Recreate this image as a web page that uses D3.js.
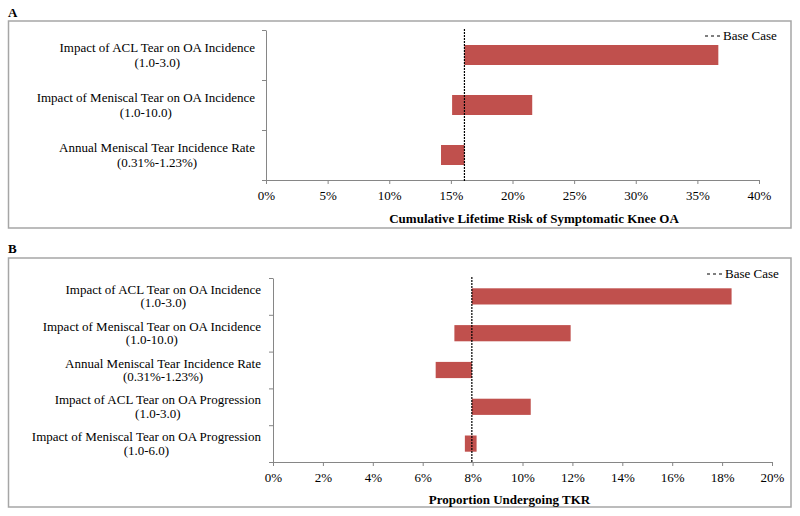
<!DOCTYPE html>
<html>
<head>
<meta charset="utf-8">
<script src="https://cdn.jsdelivr.net/npm/d3@7/dist/d3.min.js"></script>
<style>
  html, body { margin: 0; padding: 0; background: #fff; }
  svg { display: block; }
  svg text { font-family: "Liberation Serif", "Times New Roman", Times, Tinos, "DejaVu Serif", serif; fill: #000; }
</style>
</head>
<body>
<svg id="chart" width="800" height="516"></svg>
<script>
// ---------- Data ----------
const categoriesA = [
  ["Impact of ACL Tear on OA Incidence", "(1.0-3.0)"],
  ["Impact of Meniscal Tear on OA Incidence", "(1.0-10.0)"],
  ["Annual Meniscal Tear Incidence Rate", "(0.31%-1.23%)"]
];
const lowA  = [16.1, 15.1, 14.2];
const highA = [36.7, 21.6, 16.1];
const baseA = 16.1;
const ticksA = [0, 5, 10, 15, 20, 25, 30, 35, 40];
const titleA = "Cumulative Lifetime Risk of Symptomatic Knee OA";

const categoriesB = [
  ["Impact of ACL Tear on OA Incidence", "(1.0-3.0)"],
  ["Impact of Meniscal Tear on OA Incidence", "(1.0-10.0)"],
  ["Annual Meniscal Tear Incidence Rate", "(0.31%-1.23%)"],
  ["Impact of ACL Tear on OA Progression", "(1.0-3.0)"],
  ["Impact of Meniscal Tear on OA Progression", "(1.0-6.0)"]
];
const lowB  = [7.97, 7.27, 6.52, 7.97, 7.69];
const highB = [18.38, 11.93, 7.97, 10.33, 8.16];
const baseB = 7.97;
const ticksB = [0, 2, 4, 6, 8, 10, 12, 14, 16, 18, 20];
const titleB = "Proportion Undergoing TKR";

const legendLabel = "Base Case";

// ---------- Drawing ----------
const svg = d3.select("#chart");
const BAR = "#c0504d";
const AXIS = "#868686";
const FS = 13;
const FONT = '"Liberation Serif", "Times New Roman", Times, Tinos, "DejaVu Serif", serif';

function panel(o) {
  const g = svg.append("g").attr("font-family", FONT);
  g.append("text").attr("x", 8).attr("y", o.letterY)
    .attr("font-weight", "bold").attr("font-size", FS).text(o.letter);
  g.append("rect").attr("x", 8.5).attr("y", o.box[0]).attr("width", 782.5)
    .attr("height", o.box[1] - o.box[0]).attr("fill", "none")
    .attr("stroke", "#a6a6a6").attr("stroke-width", 1.5);

  const x = d3.scaleLinear().domain(o.domain).range(o.xr);
  const n = o.cats.length;
  const y = d3.scaleBand().domain(d3.range(n)).range(o.yr).paddingInner(o.pad).paddingOuter(o.pad / 2);
  const yl = d3.scaleLinear().domain([0, n]).range(o.yr);

  const xa = g.append("g").attr("transform", `translate(0,${o.yr[1]})`)
    .call(d3.axisBottom(x).tickValues(o.ticks).tickSize(4).tickSizeOuter(0)
      .tickPadding(7).tickFormat(d => d + "%"));
  xa.attr("font-family", FONT).attr("font-size", FS);
  xa.select(".domain").attr("stroke", AXIS);
  xa.selectAll(".tick line").attr("stroke", AXIS);
  xa.selectAll(".tick text").attr("fill", "#000");

  const ya = g.append("g").attr("transform", `translate(${o.xr[0]},0)`)
    .call(d3.axisLeft(yl).tickValues(d3.range(n + 1)).tickSize(4).tickSizeOuter(0).tickFormat(""));
  ya.select(".domain").attr("stroke", AXIS);
  ya.selectAll(".tick line").attr("stroke", AXIS);

  g.append("g").selectAll("rect").data(d3.range(n)).join("rect")
    .attr("x", i => x(o.low[i]))
    .attr("width", i => x(o.high[i]) - x(o.low[i]))
    .attr("y", i => y(i))
    .attr("height", y.bandwidth())
    .attr("fill", BAR);

  g.append("line").attr("x1", x(o.base)).attr("x2", x(o.base))
    .attr("y1", o.yr[0] - 1).attr("y2", o.yr[1] + 1)
    .attr("stroke", "#000").attr("stroke-width", 1.2).attr("stroke-dasharray", "2,1");

  o.cats.forEach((lines, i) => {
    const cy = y(i) + y.bandwidth() / 2;
    const t = g.append("text").attr("font-size", FS).attr("text-anchor", "middle");
    const widths = lines.map(s => {
      const m = g.append("text").attr("font-size", FS).text(s);
      const w = m.node().getComputedTextLength(); m.remove(); return w;
    });
    const cx = o.labelRight - d3.max(widths) / 2;
    lines.forEach((s, k) => {
      t.append("tspan").attr("x", cx).attr("y", cy + o.lineOff[k]).text(s);
    });
  });

  g.append("text").attr("x", o.titleX).attr("y", o.titleY)
    .attr("text-anchor", "middle").attr("font-weight", "bold").attr("font-size", FS)
    .text(o.title);

  g.append("line").attr("x1", o.legX).attr("x2", o.legX + 15)
    .attr("y1", o.legY - 4).attr("y2", o.legY - 4)
    .attr("stroke", "#000").attr("stroke-width", 1.2).attr("stroke-dasharray", "3,3");
  g.append("text").attr("x", o.legX + 18).attr("y", o.legY).attr("font-size", FS).text(legendLabel);
}

panel({
  letter: "A", letterY: 17, box: [21, 228],
  domain: [0, 40], xr: [266, 759], yr: [30, 180], pad: 0.6,
  cats: categoriesA, low: lowA, high: highA, base: baseA, ticks: ticksA,
  labelRight: 255, lineOff: [-3, 12],
  title: titleA, titleX: 534, titleY: 223,
  legX: 705, legY: 40
});

panel({
  letter: "B", letterY: 253, box: [258, 507],
  domain: [0, 20], xr: [273, 772], yr: [278, 462], pad: 0.56,
  cats: categoriesB, low: lowB, high: highB, base: baseB, ticks: ticksB,
  labelRight: 261, lineOff: [-2.5, 11],
  title: titleB, titleX: 509.5, titleY: 504,
  legX: 707, legY: 278
});
</script>
</body>
</html>
